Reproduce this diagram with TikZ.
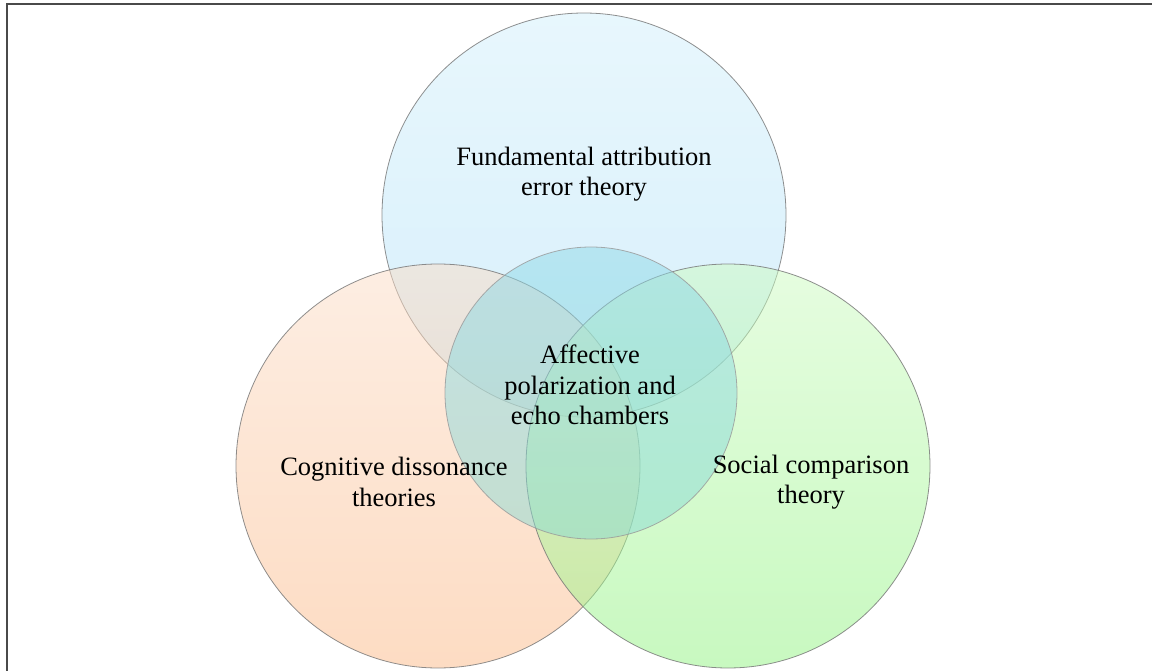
\documentclass[tikz,border=0pt]{standalone}
\usepackage{fontspec}
\setmainfont{Liberation Serif}
\usepackage{xcolor}
\usepackage{tikz}
\usetikzlibrary{positioning}

\definecolor{errtop}{HTML}{D1EFFB}
\definecolor{errbot}{HTML}{AEDFF7}
\definecolor{cogtop}{HTML}{FBDDC7}
\definecolor{cogbot}{HTML}{FBB987}
\definecolor{soctop}{HTML}{CDFBC1}
\definecolor{socbot}{HTML}{91F381}
\definecolor{aptop}{HTML}{8FD8E8}
\definecolor{apbot}{HTML}{8ADAD2}
\definecolor{framegray}{HTML}{4A4A4A}

\begin{document}
\begin{tikzpicture}[x=1pt,y=-1pt,
                venn/.style={
                  circle, inner sep=0pt, minimum size=#1,
                  fill opacity=0.5, draw=black!55, draw opacity=0.8, line width=0.8pt
                },
                venn/.default=404,
                theory/.style={
                  align=center, text=black, font=\fontsize{26.5}{30.5}\selectfont
                }
                ]
  \useasboundingbox (0,0) rectangle (1152,671);
  % frame, only top and left sides are shown
  \draw[framegray, line width=2pt] (7,671) -- (7,4) -- (1152,4);
  % the three theories
  \node [venn, top color=errtop, bottom color=errbot] (err) at (584,215) {};
  \node [venn, top color=cogtop, bottom color=cogbot] (cog) at (438,466) {};
  \node [venn, top color=soctop, bottom color=socbot] (soc) at (728,466) {};
  % what they share
  \node [venn=292, top color=aptop, bottom color=apbot, draw=black!40] (ap) at (591,393) {};
  \node [theory] (errtext) at (584,174) {Fundamental attribution\\error theory};
  \node [theory] (cogtext) at (394,482) {Cognitive dissonance\\theories};
  \node [theory] (soctext) at (811,482) {Social comparison\\theory};
  \node [theory] (aptext) at (590,385) {Affective\\polarization and\\echo chambers};
\end{tikzpicture}
\end{document}
